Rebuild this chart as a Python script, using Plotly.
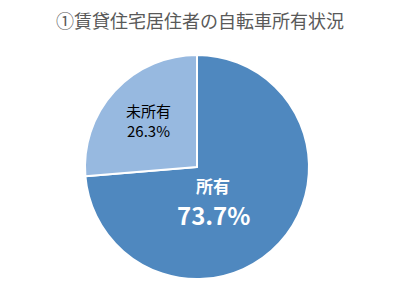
import plotly.graph_objects as go

labels = ["所有", "未所有"]
values = [73.7, 26.3]
colors = ["#4F88BF", "#97B9E0"]
title_text = "①賃貸住宅居住者の自転車所有状況"

fig = go.Figure(go.Pie(
    labels=labels,
    values=values,
    sort=False,
    direction="clockwise",
    rotation=0,
    marker=dict(colors=colors, line=dict(color="white", width=2)),
    textinfo="none",
    showlegend=False,
    domain=dict(x=[0.2125, 0.7725], y=[0.041, 0.811]),
    hoverinfo="none",
))

fig.add_annotation(
    x=0.5325, y=0.362, xref="paper", yref="paper", showarrow=False,
    xanchor="center", yanchor="middle",
    text="<b>%s</b>" % labels[0],
    font=dict(size=17, color="white", family="Noto Sans CJK JP"),
)
fig.add_annotation(
    x=0.5325, y=0.262, xref="paper", yref="paper", showarrow=False,
    xanchor="center", yanchor="middle",
    text="<b>%.1f%%</b>" % values[0],
    font=dict(size=24, color="white", family="Noto Sans CJK JP"),
)
fig.add_annotation(
    x=0.37, y=0.585, xref="paper", yref="paper", showarrow=False,
    xanchor="center", yanchor="middle",
    text="%s<br>%.1f%%" % (labels[1], values[1]),
    font=dict(size=15, color="black", family="Noto Sans CJK JP"),
    align="center",
)

fig.update_layout(
    width=400, height=291,
    margin=dict(l=0, r=0, t=0, b=0),
    paper_bgcolor="white",
    plot_bgcolor="white",
    title=dict(text=title_text, x=0.5, xanchor="center", y=0.925, yanchor="middle",
               font=dict(size=18, color="#595959", family="Noto Sans CJK JP")),
)

fig.write_html("out.html")
